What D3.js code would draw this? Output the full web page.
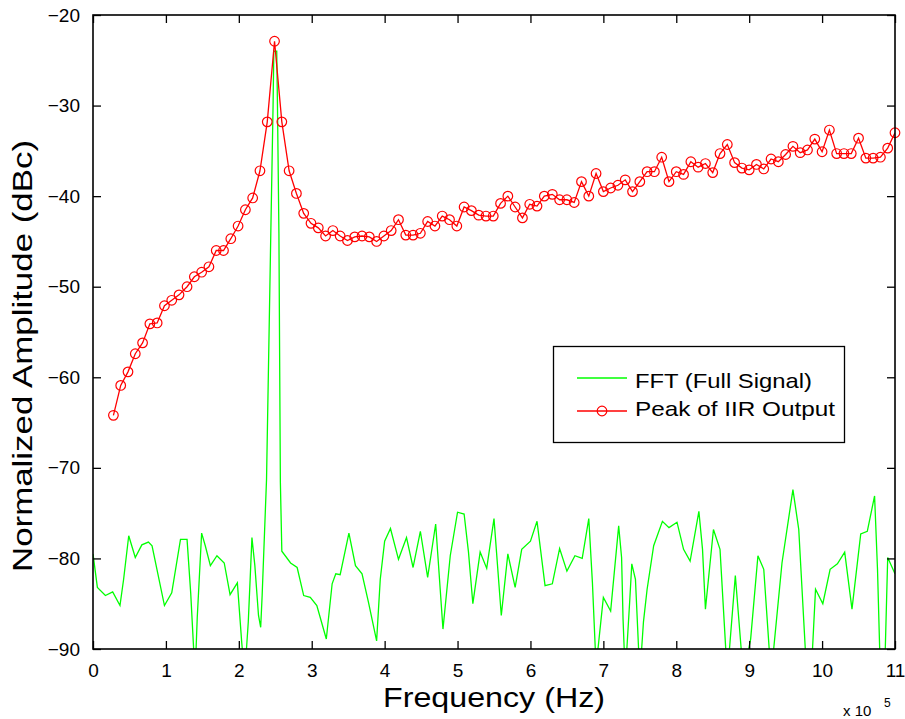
<!DOCTYPE html>
<html>
<head>
<meta charset="utf-8">
<script src="https://cdn.jsdelivr.net/npm/d3@7"></script>
<style>
  html, body { margin: 0; padding: 0; background: #fff; }
  svg { display: block; }
  text { font-family: "Liberation Sans", Arial, Helvetica, sans-serif; fill: #000; }
</style>
</head>
<body>
<svg id="chart" width="905" height="719"></svg>
<script>
// ---- Data (frequency in units of 1e5 Hz, amplitude in dBc) ----
const xTicks = [0, 1, 2, 3, 4, 5, 6, 7, 8, 9, 10, 11];
const yTicks = [-90, -80, -70, -60, -50, -40, -30, -20];

const fftFreq = [0.00, 0.06, 0.17, 0.27, 0.37, 0.42, 0.49, 0.58, 0.67, 0.76, 0.81, 0.98, 1.08, 1.20, 1.29, 1.34, 1.40, 1.43, 1.49, 1.54,
  1.61, 1.70, 1.80, 1.88, 1.98, 2.04, 2.08, 2.13, 2.18, 2.22, 2.27, 2.30, 2.32, 2.38, 2.44, 2.47, 2.48, 2.52, 2.53, 2.55,
  2.57, 2.59, 2.71, 2.80, 2.89, 2.98, 3.07, 3.20, 3.28, 3.33, 3.39, 3.51, 3.60, 3.69, 3.78, 3.89, 3.94, 4.00, 4.08, 4.19,
  4.30, 4.39, 4.49, 4.59, 4.70, 4.80, 4.90, 5.00, 5.09, 5.15, 5.21, 5.31, 5.40, 5.50, 5.60, 5.69, 5.79, 5.88, 6.00, 6.09,
  6.20, 6.30, 6.40, 6.50, 6.61, 6.71, 6.80, 6.85, 6.90, 7.00, 7.10, 7.21, 7.25, 7.27, 7.30, 7.36, 7.39, 7.44, 7.50, 7.55,
  7.60, 7.69, 7.81, 7.90, 8.01, 8.10, 8.19, 8.31, 8.36, 8.40, 8.51, 8.60, 8.70, 8.81, 8.92, 9.02, 9.12, 9.20, 9.30, 9.45,
  9.60, 9.68, 9.79, 9.85, 9.91, 10.01, 10.11, 10.21, 10.31, 10.41, 10.53, 10.62, 10.72, 10.76, 10.80, 10.86, 10.90, 11.00];
const fftDb = [-79.5, -83.2, -84.1, -83.7, -85.2, -82.3, -77.5, -79.9, -78.5, -78.2, -78.6, -85.2, -83.8, -77.9, -77.9, -83.8, -93.0, -86.5, -77.2, -78.6,
  -80.8, -79.7, -80.5, -84.0, -82.7, -89.3, -93.0, -87.0, -77.7, -80.8, -86.3, -87.6, -84.1, -71.3, -43.5, -29.9, -24.0, -24.0, -29.9, -44.1,
  -71.6, -79.2, -80.5, -81.0, -84.1, -84.3, -85.2, -88.9, -82.8, -81.7, -81.8, -77.2, -80.8, -81.7, -84.9, -89.1, -82.3, -78.1, -76.7, -80.1,
  -77.7, -81.0, -77.0, -82.1, -76.2, -87.8, -79.7, -74.9, -75.1, -79.3, -85.0, -79.3, -81.1, -75.6, -86.3, -79.5, -83.2, -79.0, -78.1, -75.9,
  -83.0, -82.8, -78.9, -81.4, -79.7, -80.0, -75.6, -82.7, -92.0, -84.3, -85.8, -76.4, -79.9, -86.7, -93.0, -84.9, -80.6, -82.3, -93.0, -87.0,
  -83.4, -78.6, -75.9, -76.6, -76.0, -79.0, -80.3, -74.8, -79.0, -85.6, -76.8, -79.0, -93.0, -81.9, -93.0, -88.9, -79.7, -81.2, -93.0, -80.5,
  -72.4, -76.8, -93.0, -93.0, -83.4, -85.0, -81.2, -80.6, -79.3, -85.6, -77.3, -77.0, -73.1, -81.2, -93.0, -92.0, -79.9, -81.7];

const iirFreq = [0.28, 0.38, 0.48, 0.58, 0.68, 0.78, 0.88, 0.98, 1.08, 1.18, 1.29, 1.39, 1.49, 1.59, 1.69, 1.79, 1.89, 1.99, 2.09, 2.19,
  2.29, 2.39, 2.49, 2.59, 2.69, 2.79, 2.89, 2.99, 3.09, 3.19, 3.29, 3.39, 3.49, 3.59, 3.69, 3.79, 3.89, 3.99, 4.09, 4.19,
  4.29, 4.39, 4.49, 4.59, 4.69, 4.79, 4.89, 4.99, 5.09, 5.19, 5.29, 5.39, 5.49, 5.59, 5.69, 5.79, 5.89, 5.99, 6.09, 6.19,
  6.30, 6.40, 6.50, 6.60, 6.70, 6.80, 6.90, 7.00, 7.10, 7.20, 7.30, 7.40, 7.50, 7.60, 7.70, 7.80, 7.90, 8.00, 8.10, 8.20,
  8.30, 8.40, 8.50, 8.60, 8.70, 8.80, 8.90, 9.00, 9.10, 9.20, 9.30, 9.40, 9.50, 9.60, 9.70, 9.80, 9.90, 10.00, 10.10, 10.20,
  10.30, 10.40, 10.50, 10.60, 10.70, 10.80, 10.90, 11.00];
const iirDb = [-64.2, -60.9, -59.4, -57.4, -56.2, -54.1, -54.0, -52.1, -51.5, -50.9, -50.0, -48.9, -48.4, -47.8, -46.0, -46.0, -44.7, -43.3, -41.5, -40.2,
  -37.2, -31.8, -22.9, -31.8, -37.2, -39.7, -41.9, -43.0, -43.5, -44.4, -43.8, -44.4, -44.9, -44.5, -44.4, -44.5, -45.0, -44.4, -43.8, -42.6,
  -44.3, -44.3, -44.1, -42.8, -43.3, -42.2, -42.6, -43.3, -41.2, -41.6, -42.1, -42.2, -42.2, -40.8, -40.0, -41.2, -42.4, -40.9, -41.1, -40.0,
  -39.8, -40.4, -40.4, -40.7, -38.4, -40.0, -37.5, -39.5, -39.1, -38.8, -38.2, -39.5, -38.4, -37.3, -37.3, -35.7, -38.4, -37.3, -37.6, -36.2,
  -36.8, -36.4, -37.4, -35.3, -34.3, -36.3, -36.9, -37.1, -36.5, -37.0, -35.9, -36.2, -35.4, -34.5, -35.2, -34.9, -33.7, -35.1, -32.7, -35.3,
  -35.3, -35.3, -33.6, -35.8, -35.8, -35.7, -34.7, -33.0];

const seriesNames = ["FFT (Full Signal)", "Peak of IIR Output"];
const seriesColors = ["#00ff00", "#ff0000"];
const xLabel = "Frequency (Hz)";
const yLabel = "Normalized Amplitude (dBc)";

// ---- Layout ----
const svg = d3.select("#chart");
const plot = { left: 93, right: 895, top: 15, bottom: 649 };

const x = d3.scaleLinear().domain([0, 11]).range([plot.left, plot.right]);
const y = d3.scaleLinear().domain([-90, -20]).range([plot.bottom, plot.top]);

svg.append("rect").attr("width", 905).attr("height", 719).attr("fill", "#fff");

svg.append("defs").append("clipPath").attr("id", "plotClip")
  .append("rect")
  .attr("x", plot.left).attr("y", plot.top)
  .attr("width", plot.right - plot.left).attr("height", plot.bottom - plot.top);

const fftData = fftFreq.map((f, i) => [f, fftDb[i]]);
const iirData = iirFreq.map((f, i) => [f, iirDb[i]]);

const line = d3.line().x(d => x(d[0])).y(d => y(d[1]));

const gData = svg.append("g").attr("clip-path", "url(#plotClip)");

gData.append("path")
  .datum(fftData)
  .attr("d", line)
  .attr("fill", "none")
  .attr("stroke", seriesColors[0])
  .attr("stroke-width", 1.3)
  .attr("stroke-linejoin", "miter");

gData.append("path")
  .datum(iirData)
  .attr("d", line)
  .attr("fill", "none")
  .attr("stroke", seriesColors[1])
  .attr("stroke-width", 1.3);

svg.append("g").selectAll("circle")
  .data(iirData)
  .join("circle")
  .attr("cx", d => x(d[0]))
  .attr("cy", d => y(d[1]))
  .attr("r", 4.8)
  .attr("fill", "none")
  .attr("stroke", seriesColors[1])
  .attr("stroke-width", 1.2);

// ---- Axes (box with inward ticks on all four sides) ----
const tickLen = 8;
const axisColor = "#000";

const xAxisB = d3.axisBottom(x).tickValues(xTicks).tickSize(-tickLen).tickPadding(tickLen + 7).tickFormat(d3.format("d"));
const xAxisT = d3.axisTop(x).tickValues(xTicks).tickSize(-tickLen).tickFormat("");
const yAxisL = d3.axisLeft(y).tickValues(yTicks).tickSize(-tickLen).tickPadding(tickLen + 5).tickFormat(d3.format("d"));
const yAxisR = d3.axisRight(y).tickValues(yTicks).tickSize(-tickLen).tickFormat("");

function styleAxis(g) {
  g.select(".domain").remove();
  g.selectAll(".tick line").attr("stroke", axisColor).attr("stroke-width", 1.3);
  g.selectAll(".tick text")
    .style("font-family", "'Liberation Sans', Arial, sans-serif")
    .style("font-size", "19px")
    .attr("fill", "#111");
}

svg.append("g").attr("transform", `translate(0,${plot.bottom})`).call(xAxisB).call(styleAxis);
svg.append("g").attr("transform", `translate(0,${plot.top})`).call(xAxisT).call(styleAxis);
svg.append("g").attr("transform", `translate(${plot.left},0)`).call(yAxisL).call(styleAxis);
svg.append("g").attr("transform", `translate(${plot.right},0)`).call(yAxisR).call(styleAxis);

svg.append("rect")
  .attr("x", plot.left).attr("y", plot.top)
  .attr("width", plot.right - plot.left).attr("height", plot.bottom - plot.top)
  .attr("fill", "none").attr("stroke", axisColor).attr("stroke-width", 1.6);

// ---- Axis labels ----
svg.append("text")
  .attr("x", (plot.left + plot.right) / 2)
  .attr("y", 707)
  .attr("text-anchor", "middle")
  .attr("textLength", 222)
  .attr("lengthAdjust", "spacingAndGlyphs")
  .style("font-size", "27px")
  .attr("fill", "#222")
  .text(xLabel);

svg.append("text")
  .attr("transform", `translate(32,${(plot.top + plot.bottom) / 2 + 24}) rotate(-90)`)
  .attr("text-anchor", "middle")
  .attr("textLength", 432)
  .attr("lengthAdjust", "spacingAndGlyphs")
  .style("font-size", "28px")
  .attr("fill", "#222")
  .text(yLabel);

// exponent note
const expG = svg.append("g");
expG.append("text").attr("x", 843).attr("y", 716).style("font-size", "15px").attr("fill", "#111").text("x 10");
expG.append("text").attr("x", 884).attr("y", 707).style("font-size", "12px").attr("fill", "#111").text("5");

// ---- Legend ----
const leg = svg.append("g");
leg.append("rect")
  .attr("x", 553.5).attr("y", 346.5).attr("width", 291).attr("height", 96)
  .attr("fill", "#fff").attr("stroke", "#000").attr("stroke-width", 1.3);

const legRows = [
  { y: 378, tx: 635, ty: 388, len: 177 },
  { y: 411, tx: 635, ty: 416, len: 200 }
];
legRows.forEach((r, i) => {
  leg.append("line")
    .attr("x1", 577).attr("x2", 627).attr("y1", r.y).attr("y2", r.y)
    .attr("stroke", seriesColors[i]).attr("stroke-width", 1.3);
  if (i === 1) {
    leg.append("circle").attr("cx", 602).attr("cy", r.y).attr("r", 4.8)
      .attr("fill", "none").attr("stroke", seriesColors[1]).attr("stroke-width", 1.2);
  }
  leg.append("text")
    .attr("x", r.tx).attr("y", r.ty)
    .attr("textLength", r.len).attr("lengthAdjust", "spacingAndGlyphs")
    .style("font-size", "21px")
    .attr("fill", "#111")
    .text(seriesNames[i]);
});
</script>
</body>
</html>
